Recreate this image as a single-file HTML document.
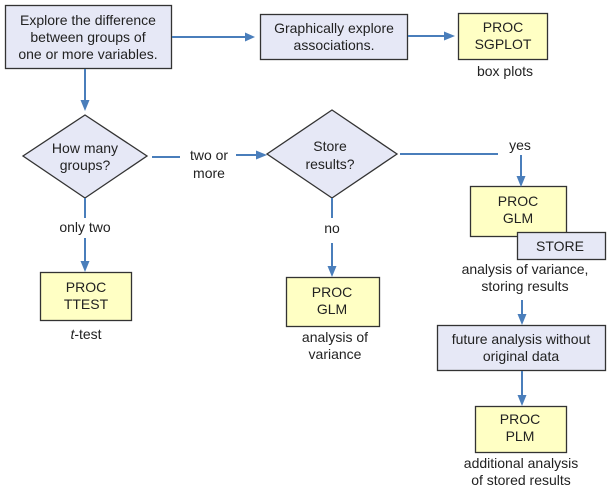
<!DOCTYPE html>
<html><head><meta charset="utf-8"><style>
html,body{margin:0;padding:0;background:#fff;}
svg{display:block;}
text{font-family:"Liberation Sans",Arial,sans-serif;font-size:14px;fill:#222;text-anchor:middle;}
.b{fill:#e6e8f6;stroke:#333;stroke-width:1.3;}
.y{fill:#ffffc4;stroke:#333;stroke-width:1.3;}
.l{stroke:#4a7ebb;stroke-width:2;fill:none;}
.a{fill:#4a7ebb;}
</style></head><body>
<svg width="610" height="491" viewBox="0 0 610 491">
<rect class="b" x="5.5" y="5.5" width="166" height="63"/>
<text x="88" y="25">Explore the difference</text>
<text x="88" y="42">between groups of</text>
<text x="88" y="59">one or more variables.</text>

<rect class="b" x="260.5" y="14.5" width="147" height="45"/>
<text x="334" y="33">Graphically explore</text>
<text x="334" y="50">associations.</text>

<rect class="y" x="458.5" y="13.5" width="89" height="46"/>
<text x="503" y="32">PROC</text>
<text x="503" y="49">SGPLOT</text>
<text x="505" y="76">box plots</text>

<polygon class="b" points="85,115 147,156 85,198 23,156"/>
<text x="85" y="153">How many</text>
<text x="85" y="170">groups?</text>

<polygon class="b" points="332,110 397,154 332,198 267,154"/>
<text x="330" y="151">Store</text>
<text x="330" y="169">results?</text>

<rect class="y" x="40.5" y="272.5" width="91" height="48"/>
<text x="86" y="292">PROC</text>
<text x="86" y="309">TTEST</text>
<text x="86" y="339"><tspan font-style="italic">t</tspan>-test</text>

<rect class="y" x="286.5" y="277.5" width="93" height="49"/>
<text x="332" y="297">PROC</text>
<text x="332" y="314">GLM</text>
<text x="335" y="342">analysis of</text>
<text x="335" y="359">variance</text>

<rect class="y" x="470.5" y="186.5" width="96" height="50"/>
<text x="518" y="206">PROC</text>
<text x="518" y="223">GLM</text>
<rect class="b" x="517.5" y="232.5" width="88" height="27"/>
<text x="560" y="251">STORE</text>
<text x="525" y="274">analysis of variance,</text>
<text x="525" y="291">storing results</text>

<rect class="b" x="437.5" y="325.5" width="168" height="45"/>
<text x="521" y="344">future analysis without</text>
<text x="521" y="361">original data</text>

<rect class="y" x="475.5" y="406.5" width="91" height="46"/>
<text x="520" y="424">PROC</text>
<text x="520" y="441">PLM</text>
<text x="521" y="468">additional analysis</text>
<text x="521" y="485">of stored results</text>

<line class="l" x1="172" y1="37" x2="246" y2="37"/><polygon class="a" points="255,37 245,32.5 245,41.5"/>
<line class="l" x1="408" y1="36" x2="445" y2="36"/><polygon class="a" points="455,36 444,31.5 444,40.5"/>
<line class="l" x1="85" y1="69" x2="85" y2="101"/><polygon class="a" points="85,111 80.5,100 89.5,100"/>
<line class="l" x1="152" y1="157" x2="180" y2="157"/>
<text x="209" y="160">two or</text>
<text x="209" y="178">more</text>
<line class="l" x1="236" y1="155" x2="257" y2="155"/><polygon class="a" points="267,155 256,150.5 256,159.5"/>
<line class="l" x1="400" y1="154" x2="498" y2="154"/>
<text x="520" y="150">yes</text>
<line class="l" x1="521" y1="155" x2="521" y2="177"/><polygon class="a" points="521,187 516.5,176 525.5,176"/>
<line class="l" x1="85" y1="198" x2="85" y2="218"/>
<text x="85" y="232">only two</text>
<line class="l" x1="85" y1="238" x2="85" y2="262"/><polygon class="a" points="85,272 80.5,261 89.5,261"/>
<line class="l" x1="332" y1="198" x2="332" y2="218"/>
<text x="332" y="233">no</text>
<line class="l" x1="332" y1="243" x2="332" y2="267"/><polygon class="a" points="332,277 327.5,266 336.5,266"/>
<line class="l" x1="522" y1="300" x2="522" y2="315"/><polygon class="a" points="522,325 517.5,314 526.5,314"/>
<line class="l" x1="522" y1="371" x2="522" y2="396"/><polygon class="a" points="522,406 517.5,395 526.5,395"/>
</svg>
</body></html>
